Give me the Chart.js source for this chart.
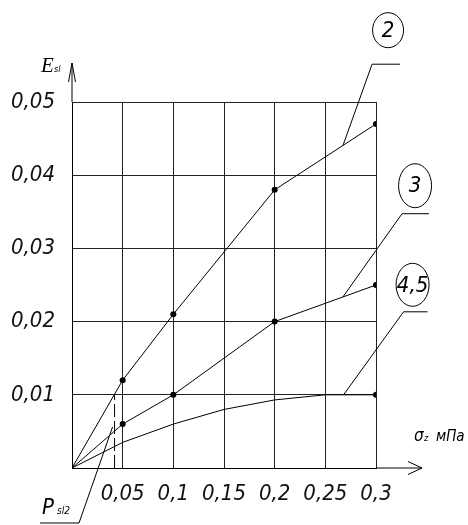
<!DOCTYPE html>
<html>
<head>
<meta charset="utf-8">
<script src="https://cdn.jsdelivr.net/npm/chart.js@4"></script>
<style>
  html, body { margin: 0; padding: 0; background: #fff; }
  #wrap { width: 468px; height: 525px; position: relative; }
</style>
</head>
<body>
<div id="wrap"><canvas id="chart" width="468" height="525"></canvas></div>
<script>
// values (sigma_z in MPa, E_sl)
const xs23 = [0, 0.05, 0.1, 0.2, 0.3];
const curve2 = [0, 0.012, 0.021, 0.038, 0.047];
const curve3 = [0, 0.006, 0.01, 0.02, 0.025];
const xs45 = [0, 0.05, 0.1, 0.15, 0.2, 0.25, 0.3];
const curve45 = [0, 0.0035, 0.006, 0.008, 0.0093, 0.01, 0.01];
const pSl2 = 0.042;
const pSl2Top = 0.01;

const xTicks = [0, 0.05, 0.1, 0.15, 0.2, 0.25, 0.3];
const yTicks = [0, 0.01, 0.02, 0.03, 0.04, 0.05];

// callout labels and where their leaders touch the curves
const calloutLabels = ['2', '3', '4,5'];
const calloutX = [0.2675, 0.2675, 0.268];
const calloutY = [0.0441, 0.0234, 0.01];

const narrow = '"Liberation Sans Narrow", "DejaVu Sans Condensed", "Roboto", sans-serif';

function fmt(v) {
    if (Math.abs(v) < 1e-9) return '';
    return String(parseFloat(v.toFixed(3))).replace('.', ',');
}

function pts(xs, ys) {
    return xs.map((x, i) => ({ x: x, y: ys[i] }));
}

const decor = {
    id: 'decor',
    afterDraw(chart) {
        const ctx = chart.ctx;
        const xs = chart.scales.x, ys = chart.scales.y;
        const x0 = xs.getPixelForValue(0), y0 = ys.getPixelForValue(0);
        const xEnd = xs.getPixelForValue(0.3), yTop = ys.getPixelForValue(0.05);
        ctx.save();
        ctx.strokeStyle = '#000';
        ctx.fillStyle = '#000';
        ctx.lineWidth = 1;

        // axis extensions with open arrows
        ctx.beginPath();
        ctx.moveTo(x0, yTop); ctx.lineTo(x0, 63);
        ctx.moveTo(x0 - 3.5, 82); ctx.lineTo(x0, 63); ctx.lineTo(x0 + 3.5, 82);
        ctx.moveTo(xEnd, y0); ctx.lineTo(422, y0);
        ctx.moveTo(408, y0 - 6.5); ctx.lineTo(422, y0); ctx.lineTo(408, y0 + 6.5);
        ctx.stroke();

        // axis titles
        ctx.textBaseline = 'alphabetic';
        ctx.font = 'italic 21px "Liberation Serif", serif';
        ctx.fillText('E', 41, 72);
        ctx.font = 'italic 9px ' + narrow;
        ctx.fillText('sl', 54, 72);
        ctx.font = 'italic 17px ' + narrow;
        ctx.fillText('σ', 414, 441);
        ctx.font = 'italic 9px ' + narrow;
        ctx.fillText('z', 424, 441);
        ctx.font = 'italic 15px ' + narrow;
        ctx.fillText('мПа', 436, 441);

        // P_sl2 leader
        ctx.beginPath();
        ctx.moveTo(40, 523); ctx.lineTo(79, 523);
        ctx.lineTo(xs.getPixelForValue(pSl2) - 2, ys.getPixelForValue(0.0056));
        ctx.stroke();
        ctx.font = 'italic 22px ' + narrow;
        ctx.fillText('P', 42, 514);
        ctx.font = 'italic 10px ' + narrow;
        ctx.fillText('sl2', 57, 514);

        // numbered callouts
        const geo = [
            { ex: 29, ey: -81, len: 28, cx: 45, cy: -115, rx: 15.5, ry: 17.5 },
            { ex: 59, ey: -83, len: 27, cx: 72, cy: -111, rx: 16.5, ry: 22 },
            { ex: 60, ey: -83, len: 24, cx: 69, cy: -110, rx: 16.5, ry: 21.5 }
        ];
        calloutLabels.forEach((lab, i) => {
            const ax = xs.getPixelForValue(calloutX[i]);
            const ay = ys.getPixelForValue(calloutY[i]);
            const g = geo[i];
            ctx.beginPath();
            ctx.moveTo(ax, ay);
            ctx.lineTo(ax + g.ex, ay + g.ey);
            ctx.lineTo(ax + g.ex + g.len, ay + g.ey);
            ctx.stroke();
            ctx.beginPath();
            ctx.ellipse(ax + g.cx, ay + g.cy, g.rx, g.ry, 0, 0, Math.PI * 2);
            ctx.stroke();
            ctx.font = 'italic 22px ' + narrow;
            ctx.textAlign = 'center';
            ctx.textBaseline = 'middle';
            ctx.fillText(lab, ax + g.cx, ay + g.cy + 1);
            ctx.textAlign = 'left';
            ctx.textBaseline = 'alphabetic';
        });
        ctx.restore();
    }
};

const lineStyle = {
    borderColor: '#000',
    borderWidth: 1,
    backgroundColor: '#000',
    pointBackgroundColor: '#000',
    pointBorderWidth: 0,
    tension: 0,
    fill: false
};

new Chart(document.getElementById('chart'), {
    type: 'scatter',
    data: {
        datasets: [
            Object.assign({ label: '2', data: pts(xs23, curve2), showLine: true, pointRadius: [0, 3, 3, 3, 3] }, lineStyle),
            Object.assign({ label: '3', data: pts(xs23, curve3), showLine: true, pointRadius: [0, 3, 3, 3, 3] }, lineStyle),
            Object.assign({ label: '4,5', data: pts(xs45, curve45), showLine: true, pointRadius: [0, 0, 0, 0, 0, 0, 3] }, lineStyle),
            Object.assign({}, lineStyle, { label: 'Psl2', data: [{ x: pSl2, y: 0 }, { x: pSl2, y: pSl2Top }], showLine: true, pointRadius: 0, borderDash: [13, 4] })
        ]
    },
    options: {
        responsive: false,
        animation: false,
        layout: { padding: { top: 102, right: 92, left: 0, bottom: 0 } },
        plugins: { legend: { display: false }, tooltip: { enabled: false } },
        scales: {
            x: {
                type: 'linear', min: 0, max: 0.3,
                afterBuildTicks: s => { s.ticks = xTicks.map(v => ({ value: v })); },
                afterFit: s => { s.height = 57; },
                grid: { color: '#222', lineWidth: 1, drawTicks: false },
                border: { color: '#000', width: 1 },
                ticks: { padding: 13, color: '#111', maxRotation: 0, autoSkip: false, callback: v => fmt(v),
                    font: { family: narrow, size: 22, style: 'italic' } }
            },
            y: {
                type: 'linear', min: 0, max: 0.05,
                afterBuildTicks: s => { s.ticks = yTicks.map(v => ({ value: v })); },
                afterFit: s => { s.width = 72; },
                grid: { color: '#222', lineWidth: 1, drawTicks: false },
                border: { color: '#000', width: 1 },
                ticks: { padding: 17, color: '#111', autoSkip: false, callback: v => fmt(v),
                    font: { family: narrow, size: 22, style: 'italic' } }
            }
        }
    },
    plugins: [decor]
});
</script>
</body>
</html>
